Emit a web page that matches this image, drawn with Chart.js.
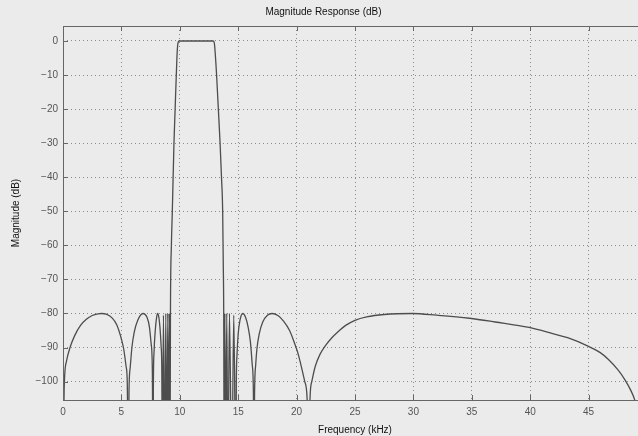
<!DOCTYPE html>
<html>
<head>
<meta charset="utf-8">
<script src="https://cdn.jsdelivr.net/npm/chart.js@4.4.1/dist/chart.umd.min.js"></script>
<style>
  html, body { margin: 0; padding: 0; background: #ebebeb; overflow: hidden; }
  #wrap { width: 660px; height: 436px; }
</style>
</head>
<body>
<div id="wrap"><canvas id="chart" width="660" height="436"></canvas></div>
<script>
const chartTitle = 'Magnitude Response (dB)';
const xTitle = 'Frequency (kHz)';
const yTitle = 'Magnitude (dB)';

const xTicks = [0, 5, 10, 15, 20, 25, 30, 35, 40, 45, 50];
const yTicks = [0, -10, -20, -30, -40, -50, -60, -70, -80, -90, -100];

// frequency (kHz) and magnitude (dB)
const freqKHz = [
  0, 0.1, 0.3, 0.6, 1.0, 1.5, 2.0, 2.5, 3.0, 3.3, 3.7, 4.2, 4.6, 5.0, 5.2, 5.4, 5.5, 5.6,
  5.65, 5.75, 5.9, 6.1, 6.4, 6.85, 7.2, 7.4, 7.55, 7.65, 7.7,
  7.74, 7.8, 7.9, 8.0, 8.1, 8.2, 8.3, 8.4, 8.46, 8.5,
  8.6, 8.72, 8.8, 8.9, 8.97, 9.05, 9.1, 9.16, 9.2,
  9.28, 9.36, 9.5, 9.6, 9.7, 9.78, 9.85, 9.95, 11.0, 12.0, 12.85,
  12.95, 13.02, 13.15, 13.3, 13.45, 13.57, 13.67, 13.72, 13.76, 13.8,
  13.86, 13.93, 14.02, 14.12, 14.25, 14.45, 14.62, 14.8,
  14.84, 14.9, 15.0, 15.15, 15.4, 15.65, 15.85, 16.05, 16.2, 16.3, 16.35,
  16.4, 16.5, 16.6, 16.8, 17.1, 17.5, 17.9, 18.4, 18.9, 19.4, 19.8, 20.1, 20.4, 20.7, 20.9, 21.05,
  21.15, 21.3, 21.6, 22.0, 22.5, 23.0, 23.5, 24.2, 25.0, 26.0, 27.5, 29.9, 32.0, 34.8, 37.0, 39.9,
  42.0, 43.2, 44.9, 46.0, 46.7, 47.5, 48.1, 48.6, 49.0, 49.5, 50
];
const magDB = [
  -130, -102, -94, -90, -86.5, -83.5, -81.7, -80.6, -80.1, -80, -80.2, -81.3, -83.3, -87.5, -90.5, -95.5, -100, -130,
  -103, -96, -90, -85.5, -82, -80, -81.2, -84, -89, -97, -130,
  -100, -91, -85, -81.5, -80, -81, -84, -89.5, -97, -130,
  -80.5, -130, -80, -130, -80, -130, -80, -130, -80,
  -60, -50, -30, -20, -10, -3, -0.5, 0, 0, 0, 0,
  -0.5, -3, -10, -20, -30, -40, -50, -65, -80, -130,
  -80, -130, -80, -130, -80, -130, -80.5, -130,
  -100, -92, -86, -82, -80, -81.3, -84, -88.5, -95, -103, -130,
  -104, -95, -90.5, -86, -82.5, -80.5, -80, -80.6, -82.3, -85, -88.5, -91.5, -95.5, -100, -105, -130,
  -105, -100, -95.5, -92, -89.3, -87.2, -85.5, -83.5, -82, -81, -80.3, -80, -80.5, -81.4, -82.5, -84.1,
  -86, -87.1, -89.5, -91.5, -93.5, -96.5, -99.4, -102.5, -106, -115, -130
];

const points = freqKHz.map((f, i) => ({ x: f, y: magDB[i] }));

const frame = {
  id: 'frame',
  beforeDraw(chart) {
    const ctx = chart.ctx;
    ctx.save();
    ctx.fillStyle = '#ebebeb';
    ctx.fillRect(0, 0, chart.width, chart.height);
    ctx.restore();
  },
  afterDraw(chart) {
    const { ctx, chartArea: a, scales } = chart;
    ctx.save();
    ctx.strokeStyle = '#666';
    ctx.lineWidth = 1;
    ctx.strokeRect(a.left + 0.5, a.top + 0.5, a.right - a.left, a.bottom - a.top);
    // inward tick marks, matlab style
    ctx.beginPath();
    xTicks.forEach(v => {
      const px = Math.round(scales.x.getPixelForValue(v)) + 0.5;
      ctx.moveTo(px, a.bottom); ctx.lineTo(px, a.bottom - 5);
      ctx.moveTo(px, a.top); ctx.lineTo(px, a.top + 5);
    });
    yTicks.forEach(v => {
      const py = Math.round(scales.y.getPixelForValue(v)) + 0.5;
      ctx.moveTo(a.left, py); ctx.lineTo(a.left + 5, py);
      ctx.moveTo(a.right, py); ctx.lineTo(a.right - 5, py);
    });
    ctx.stroke();
    ctx.restore();
  }
};

const font = 'Liberation Sans, Arial, sans-serif';

new Chart(document.getElementById('chart'), {
  type: 'line',
  data: {
    datasets: [{
      data: points,
      borderColor: '#4d4d4d',
      borderWidth: 1.3,
      pointRadius: 0,
      cubicInterpolationMode: 'monotone',
      fill: false
    }]
  },
  options: {
    responsive: false,
    animation: false,
    layout: { padding: { left: 0, right: 13, top: 0, bottom: 0 } },
    plugins: {
      legend: { display: false },
      tooltip: { enabled: false },
      title: {
        display: true,
        text: chartTitle,
        color: '#111',
        font: { family: font, size: 10, weight: 'normal' },
        padding: { top: 6, bottom: 8 }
      }
    },
    scales: {
      x: {
        type: 'linear',
        min: 0,
        max: 50,
        afterBuildTicks: s => { s.ticks = xTicks.map(v => ({ value: v })); },
        afterFit: s => { s.height = 36; },
        border: { display: false, dash: [1, 3] },
        grid: { color: '#8a8a8a', drawTicks: false, lineWidth: 1 },
        ticks: {
          color: '#555',
          padding: 6,
          maxRotation: 0,
          font: { family: font, size: 10 }
        },
        title: {
          display: true,
          text: xTitle,
          color: '#111',
          padding: { top: 1, bottom: 0 },
          font: { family: font, size: 10 }
        }
      },
      y: {
        type: 'linear',
        min: -105.4,
        max: 4.4,
        afterBuildTicks: s => { s.ticks = yTicks.map(v => ({ value: v })); },
        afterFit: s => { s.width = 63; },
        border: { display: false, dash: [1, 3] },
        grid: { color: '#8a8a8a', drawTicks: false, lineWidth: 1 },
        ticks: {
          color: '#555',
          padding: 5,
          font: { family: font, size: 10 },
          callback: v => String(v).replace('-', '\u2212')
        },
        title: {
          display: true,
          text: yTitle,
          color: '#111',
          padding: { top: 10, bottom: 0 },
          font: { family: font, size: 10 }
        }
      }
    }
  },
  plugins: [frame]
});
</script>
</body>
</html>
